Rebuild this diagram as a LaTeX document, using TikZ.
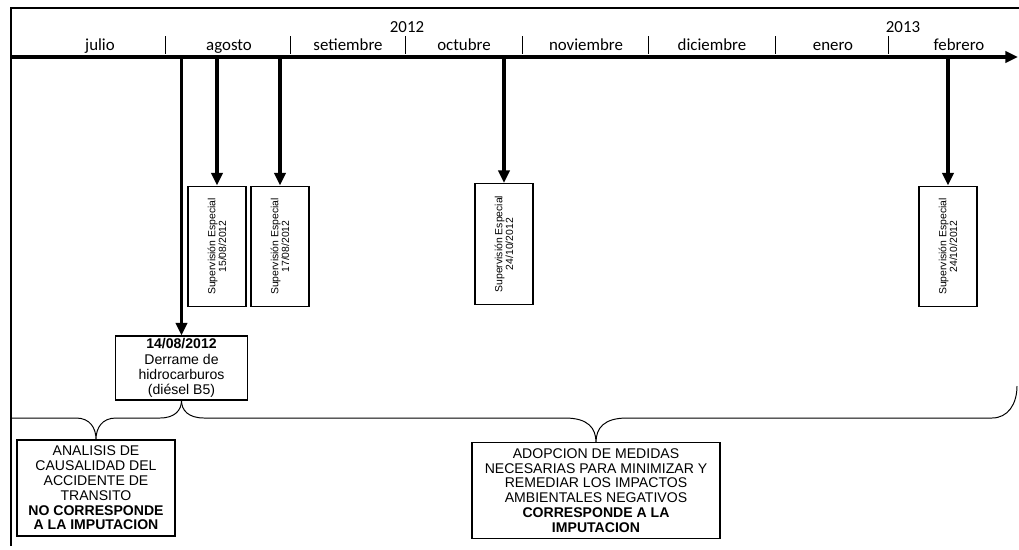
\documentclass[tikz,border=0pt]{standalone}
\usepackage{fontspec}
\setmainfont{Liberation Sans}
\newfontfamily\calfont{Carlito}
\usepackage{tikz}
\usetikzlibrary{arrows.meta}

\begin{document}
\begin{tikzpicture}[x=0.025cm,y=-0.025cm]
\tikzstyle{month}=[font=\calfont\fontsize{12}{12}\selectfont,inner sep=0pt,anchor=base]
\tikzstyle{supbox}=[draw,line width=0.8pt,rotate=90,minimum width=3.02cm,minimum height=1.45cm,align=center,font=\fontsize{7.4}{7.6}\selectfont,inner sep=1pt]
\tikzstyle{textbox}=[draw,line width=0.8pt,align=center,font=\fontsize{10}{10.5}\selectfont,inner sep=1pt]
\tikzstyle{datearrow}=[line width=2.4pt,-{Triangle[width=8pt,length=9pt]}]
\tikzstyle{bracket}=[line width=0.7pt]
\useasboundingbox (0,0) rectangle (1019,549);
% frame and time axis
\draw[line width=2pt] (11,546) -- (11,8) -- (1019,8);
\coordinate (a0) at (11,57);
\coordinate (a1) at (1018,57);
\draw[line width=2.2pt,-{Triangle[width=8pt,length=9pt]}] (a0) -- (a1);
\foreach \x in {165,290,405,522,648,775,888}
	\draw[line width=0.7pt] (\x,36) -- (\x,54);
\foreach \name/\x in {
	julio/100,
	agosto/229,
	setiembre/348,
	octubre/464,
	noviembre/586,
	diciembre/712,
	enero/833,
	febrero/959}
	\node[month] (\name) at (\x,50) {\name};
\node[month] (y2012) at (407,32) {2012};
\node[month] (y2013) at (903,32) {2013};
% events
\node[supbox] (sup1) at (217,246.5) {Supervisión Especial\\15/08/2012};
\node[supbox] (sup2) at (280,246.5) {Supervisión Especial\\17/08/2012};
\node[supbox] (sup3) at (504,244) {Supervisión Especial\\24/10/2012};
\node[supbox] (sup4) at (948,246.5) {Supervisión Especial\\24/10/2012};
\node[textbox,minimum width=3.32cm,minimum height=1.6cm,font=\fontsize{10}{10.8}\selectfont] (derrame) at (181.5,368)
	{\textbf{14/08/2012}\\Derrame de\\hidrocarburos\\(diésel B5)};
\node[textbox,minimum width=3.95cm,minimum height=2.4cm] (analisis) at (96,488)
	{ANALISIS DE\\CAUSALIDAD DEL\\ACCIDENTE DE\\TRANSITO\\\textbf{NO CORRESPONDE}\\\textbf{A LA IMPUTACION}};
\node[textbox,minimum width=6.2cm,minimum height=2.38cm] (adopcion) at (596,490.5)
	{ADOPCION DE MEDIDAS\\NECESARIAS PARA MINIMIZAR Y\\REMEDIAR LOS IMPACTOS\\AMBIENTALES NEGATIVOS\\\textbf{CORRESPONDE A LA}\\\textbf{IMPUTACION}};
\foreach \name/\x in {derrame/181.5, sup1/217, sup2/280, sup3/504, sup4/948} {
	\coordinate (t\name) at (\x,57);
	\draw[datearrow] (t\name) -- (\name);
}
% braces
\coordinate (bl) at (11,418);
\coordinate (br) at (1017,386);
\draw[bracket] (bl) -- (76,418) .. controls (90,418) and (96,428) .. (analisis.north)
	.. controls (96,428) and (102,418) .. (116,418) -- (160,418)
	.. controls (175,418) and (181.5,410) .. (derrame.south);
\draw[bracket] (derrame.south) .. controls (181.5,410) and (188,418) .. (204,418) -- (565,418)
	.. controls (588,418) and (596,428) .. (adopcion.north)
	.. controls (596,428) and (604,418) .. (627,418) -- (992,418)
	.. controls (1008,418) and (1017,404) .. (br);
\end{tikzpicture}
\end{document}
